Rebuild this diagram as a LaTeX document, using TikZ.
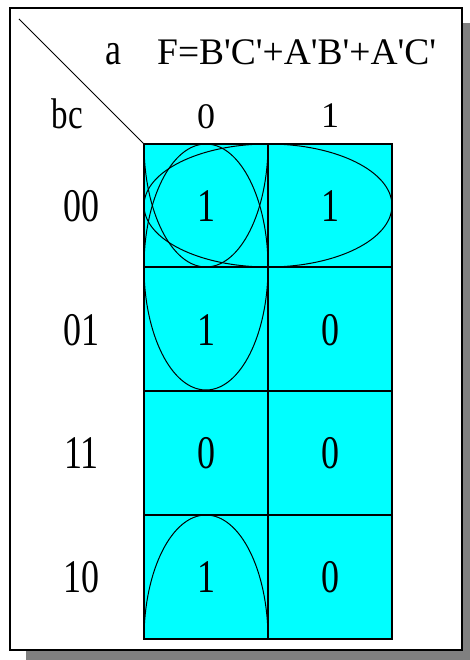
\documentclass[tikz,border=0pt]{standalone}
\usepackage{fontspec}
\setmainfont{Liberation Serif}[Ligatures=TeXOff]
\usepackage{graphicx}
\definecolor{aqua}{RGB}{0,255,255}
\definecolor{shadowgray}{RGB}{128,128,128}
\begin{document}
\begin{tikzpicture}[x=1pt,y=-1pt,
  lbl/.style={anchor=base,inner sep=0pt,font=\fontsize{36}{40}\selectfont},
  big/.style={anchor=base,inner sep=0pt,font=\fontsize{36}{40}\selectfont},
  loop/.style={draw=black,line width=1pt},
  gridline/.style={draw=black,line width=1.3pt}]
\useasboundingbox (0,0) rectangle (470,660);
% shadow and frame
\fill[shadowgray] (26,23) rectangle (470,660);
\draw[line width=1.6pt,fill=white] (10,8) rectangle (462,650);
% map background
\coordinate (tl) at (144,144);
\coordinate (br) at (392,639);
\fill[aqua] (tl) rectangle (br);
% corner diagonal
\coordinate (dstart) at (19,19);
\draw[line width=1pt] (dstart) -- (tl);
% labels
\node[lbl] (avar) at (113,65) {\scalebox{1}[1.25]{a}};
\node[anchor=base west,inner sep=0pt,font=\fontsize{37.5}{40}\selectfont] (fn) at (157,65) {F=B'C'+A'B'+A'C'};
\node[anchor=base,inner sep=0pt,font=\fontsize{33}{40}\selectfont] (bcvar) at (67.5,129) {\scalebox{1}[1.3]{bc}};
\node[lbl] (h0) at (206,129) {0};
\node[lbl] (h1) at (330,128) {1};
\node[big] (r00) at (81.5,221) {\scalebox{1}[1.3]{00}};
\node[big] (r01) at (81.5,345) {\scalebox{1}[1.3]{01}};
\node[big] (r11) at (81.5,468) {\scalebox{1}[1.3]{11}};
\node[big] (r10) at (81.5,592) {\scalebox{1}[1.3]{10}};
\node[big] (c000) at (206,221) {\scalebox{1}[1.3]{1}};
\node[big] (c100) at (330,221) {\scalebox{1}[1.3]{1}};
\node[big] (c001) at (206,345) {\scalebox{1}[1.3]{1}};
\node[big] (c101) at (330,345) {\scalebox{1}[1.3]{0}};
\node[big] (c011) at (206,468) {\scalebox{1}[1.3]{0}};
\node[big] (c111) at (330,468) {\scalebox{1}[1.3]{0}};
\node[big] (c010) at (206,592) {\scalebox{1}[1.3]{1}};
\node[big] (c110) at (330,592) {\scalebox{1}[1.3]{0}};
% loops
\draw[loop] (206,267) ellipse [x radius=62, y radius=123];
\draw[loop] (268,205.5) ellipse [x radius=124, y radius=61.5];
\draw[loop] (144,144) arc[start angle=180,end angle=0,x radius=62,y radius=123];
\draw[loop] (144,639) arc[start angle=180,end angle=360,x radius=62,y radius=124];
% grid
\draw[gridline] (tl) rectangle (br);
\draw[gridline] (268,144) -- (268,639);
\draw[gridline] (144,267) -- (392,267);
\draw[gridline] (144,391) -- (392,391);
\draw[gridline] (144,515) -- (392,515);
\end{tikzpicture}
\end{document}
